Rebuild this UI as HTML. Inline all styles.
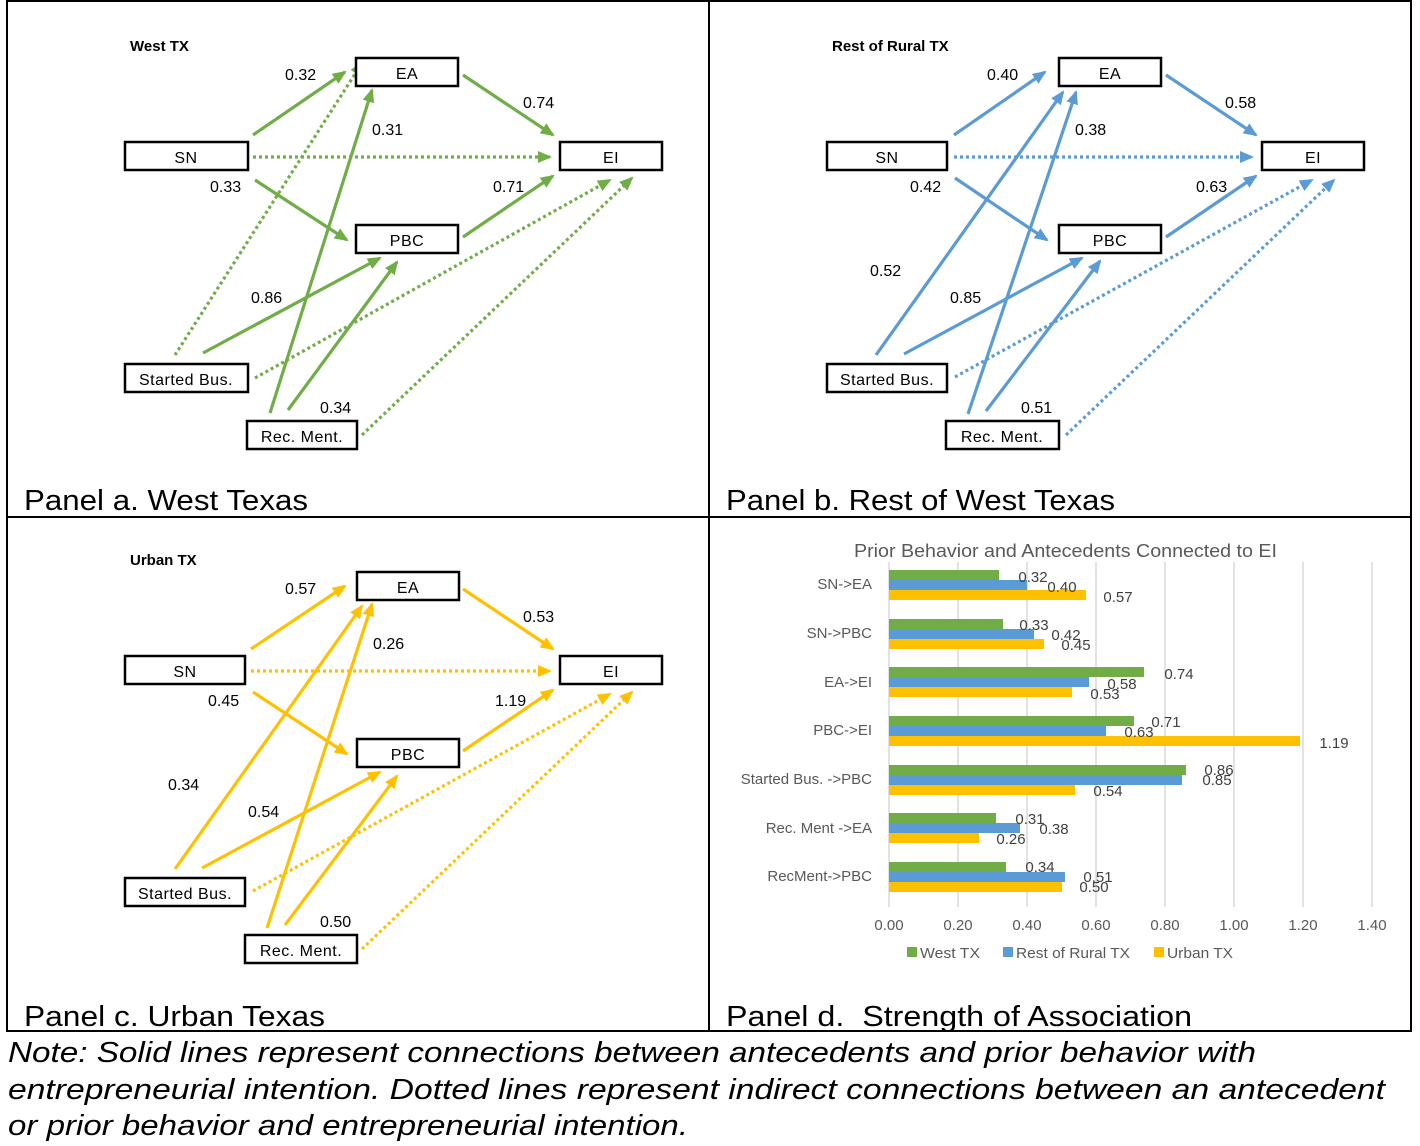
<!DOCTYPE html>
<html><head><meta charset="utf-8"><style>
body{margin:0;background:#fff;}
svg{display:block;font-family:"Liberation Sans",sans-serif;}
.box{fill:#fff;stroke:#000;stroke-width:2.5}
.bt{font-size:16px;text-anchor:middle;letter-spacing:0.5px}
.lb{font-size:16px}
.pt{font-size:29px}
</style></head><body>
<svg width="1420" height="1146" viewBox="0 0 1420 1146">
<defs>
<marker id="mg" markerUnits="userSpaceOnUse" markerWidth="14" markerHeight="12" refX="12" refY="6" orient="auto"><path d="M0,0L14,6L0,12z" fill="#70ad47"/></marker>
<marker id="mb" markerUnits="userSpaceOnUse" markerWidth="14" markerHeight="12" refX="12" refY="6" orient="auto"><path d="M0,0L14,6L0,12z" fill="#5b9bd5"/></marker>
<marker id="my" markerUnits="userSpaceOnUse" markerWidth="14" markerHeight="12" refX="12" refY="6" orient="auto"><path d="M0,0L14,6L0,12z" fill="#ffc000"/></marker>
</defs>
<rect x="7" y="1" width="1404" height="1030" fill="none" stroke="#000" stroke-width="2"/>
<line x1="709" y1="1" x2="709" y2="1031" stroke="#000" stroke-width="2"/>
<line x1="7" y1="517" x2="1411" y2="517" stroke="#000" stroke-width="2"/>

<!-- Panel a -->
<g stroke="#70ad47" stroke-width="3.2" fill="none" marker-end="url(#mg)">
<line x1="253" y1="135" x2="345" y2="72"/>
<line x1="463" y1="75" x2="553" y2="135"/>
<line x1="253" y1="157" x2="550" y2="157" stroke-dasharray="3,3"/>
<line x1="255" y1="180" x2="347" y2="240"/>
<line x1="463" y1="237" x2="553" y2="176"/>
<line x1="175" y1="355" x2="362" y2="63" stroke-dasharray="3,3"/>
<line x1="203" y1="353" x2="380" y2="258"/>
<line x1="255" y1="378" x2="610" y2="180" stroke-dasharray="3,3"/>
<line x1="270" y1="413" x2="372" y2="90"/>
<line x1="288" y1="410" x2="397" y2="262"/>
<line x1="362" y1="435" x2="632" y2="178" stroke-dasharray="3,3"/>
</g>
<rect class="box" x="356" y="58" width="102" height="28"/><text class="bt" x="407" y="79">EA</text>
<rect class="box" x="125" y="142" width="123" height="28"/><text class="bt" x="186" y="163">SN</text>
<rect class="box" x="560" y="142" width="102" height="28"/><text class="bt" x="611" y="163">EI</text>
<rect class="box" x="356" y="225" width="102" height="28"/><text class="bt" x="407" y="246">PBC</text>
<rect class="box" x="125" y="364" width="123" height="28"/><text class="bt" x="186" y="385">Started Bus.</text>
<rect class="box" x="247" y="421" width="110" height="28"/><text class="bt" x="302" y="442">Rec. Ment.</text>
<text x="130" y="51" font-size="15" font-weight="bold">West TX</text>
<g class="lb"><text x="285" y="80">0.32</text><text x="523" y="108">0.74</text><text x="372" y="135">0.31</text><text x="210" y="192">0.33</text><text x="493" y="192">0.71</text><text x="251" y="303">0.86</text><text x="320" y="413">0.34</text></g>
<text class="pt" x="24" y="510" textLength="284" lengthAdjust="spacingAndGlyphs">Panel a. West Texas</text>

<!-- Panel b -->
<g stroke="#5b9bd5" stroke-width="3.2" fill="none" marker-end="url(#mb)">
<line x1="954" y1="135" x2="1045" y2="72"/>
<line x1="1166" y1="75" x2="1256" y2="135"/>
<line x1="954" y1="157" x2="1252" y2="157" stroke-dasharray="3,3"/>
<line x1="955" y1="178" x2="1047" y2="240"/>
<line x1="1166" y1="237" x2="1256" y2="176"/>
<line x1="876" y1="355" x2="1063" y2="92"/>
<line x1="904" y1="354" x2="1082" y2="258"/>
<line x1="955" y1="377" x2="1312" y2="180" stroke-dasharray="3,3"/>
<line x1="968" y1="414" x2="1076" y2="92"/>
<line x1="986" y1="411" x2="1100" y2="261"/>
<line x1="1066" y1="435" x2="1334" y2="180" stroke-dasharray="3,3"/>
</g>
<rect class="box" x="1059" y="58" width="102" height="28"/><text class="bt" x="1110" y="79">EA</text>
<rect class="box" x="827" y="142" width="120" height="28"/><text class="bt" x="887" y="163">SN</text>
<rect class="box" x="1262" y="142" width="102" height="28"/><text class="bt" x="1313" y="163">EI</text>
<rect class="box" x="1059" y="225" width="102" height="28"/><text class="bt" x="1110" y="246">PBC</text>
<rect class="box" x="827" y="364" width="120" height="28"/><text class="bt" x="887" y="385">Started Bus.</text>
<rect class="box" x="946" y="421" width="113" height="28"/><text class="bt" x="1002" y="442">Rec. Ment.</text>
<text x="832" y="51" font-size="15" font-weight="bold">Rest of Rural TX</text>
<g class="lb"><text x="987" y="80">0.40</text><text x="1225" y="108">0.58</text><text x="1075" y="135">0.38</text><text x="910" y="192">0.42</text><text x="1196" y="192">0.63</text><text x="870" y="276">0.52</text><text x="950" y="303">0.85</text><text x="1021" y="413">0.51</text></g>
<text class="pt" x="726" y="510" textLength="389" lengthAdjust="spacingAndGlyphs">Panel b. Rest of West Texas</text>

<!-- Panel c -->
<g stroke="#ffc000" stroke-width="3.2" fill="none" marker-end="url(#my)">
<line x1="251" y1="649" x2="345" y2="586"/>
<line x1="463" y1="589" x2="553" y2="649"/>
<line x1="251" y1="671" x2="550" y2="671" stroke-dasharray="3,3"/>
<line x1="253" y1="692" x2="347" y2="754"/>
<line x1="463" y1="751" x2="553" y2="690"/>
<line x1="175" y1="869" x2="362" y2="606"/>
<line x1="202" y1="868" x2="380" y2="772"/>
<line x1="253" y1="891" x2="610" y2="694" stroke-dasharray="3,3"/>
<line x1="267" y1="928" x2="372" y2="604"/>
<line x1="285" y1="925" x2="397" y2="776"/>
<line x1="362" y1="949" x2="632" y2="692" stroke-dasharray="3,3"/>
</g>
<rect class="box" x="357" y="572" width="102" height="28"/><text class="bt" x="408" y="593">EA</text>
<rect class="box" x="125" y="656" width="120" height="28"/><text class="bt" x="185" y="677">SN</text>
<rect class="box" x="560" y="656" width="102" height="28"/><text class="bt" x="611" y="677">EI</text>
<rect class="box" x="357" y="739" width="102" height="28"/><text class="bt" x="408" y="760">PBC</text>
<rect class="box" x="125" y="878" width="120" height="28"/><text class="bt" x="185" y="899">Started Bus.</text>
<rect class="box" x="245" y="935" width="112" height="28"/><text class="bt" x="301" y="956">Rec. Ment.</text>
<text x="130" y="565" font-size="15" font-weight="bold">Urban TX</text>
<g class="lb"><text x="285" y="594">0.57</text><text x="523" y="622">0.53</text><text x="373" y="649">0.26</text><text x="208" y="706">0.45</text><text x="495" y="706">1.19</text><text x="168" y="790">0.34</text><text x="248" y="817">0.54</text><text x="320" y="927">0.50</text></g>
<text class="pt" x="24" y="1026" textLength="301" lengthAdjust="spacingAndGlyphs">Panel c. Urban Texas</text>

<!-- Panel d chart -->
<text x="854" y="557" font-size="18" fill="#595959" textLength="423" lengthAdjust="spacingAndGlyphs">Prior Behavior and Antecedents Connected to EI</text>
<g stroke="#d9d9d9" stroke-width="1.5">
<line x1="889" y1="562" x2="889" y2="907"/><line x1="958" y1="562" x2="958" y2="907"/><line x1="1027" y1="562" x2="1027" y2="907"/><line x1="1096" y1="562" x2="1096" y2="907"/><line x1="1165" y1="562" x2="1165" y2="907"/><line x1="1234" y1="562" x2="1234" y2="907"/><line x1="1303" y1="562" x2="1303" y2="907"/><line x1="1372" y1="562" x2="1372" y2="907"/>
</g>
<g>
<rect x="889" y="570" width="110" height="10" fill="#70ad47"/><rect x="889" y="580" width="138" height="10" fill="#5b9bd5"/><rect x="889" y="590" width="197" height="10" fill="#ffc000"/>
<rect x="889" y="619" width="114" height="10" fill="#70ad47"/><rect x="889" y="629" width="145" height="10" fill="#5b9bd5"/><rect x="889" y="639" width="155" height="10" fill="#ffc000"/>
<rect x="889" y="667" width="255" height="10" fill="#70ad47"/><rect x="889" y="677" width="200" height="10" fill="#5b9bd5"/><rect x="889" y="687" width="183" height="10" fill="#ffc000"/>
<rect x="889" y="716" width="245" height="10" fill="#70ad47"/><rect x="889" y="726" width="217" height="10" fill="#5b9bd5"/><rect x="889" y="736" width="411" height="10" fill="#ffc000"/>
<rect x="889" y="765" width="297" height="10" fill="#70ad47"/><rect x="889" y="775" width="293" height="10" fill="#5b9bd5"/><rect x="889" y="785" width="186" height="10" fill="#ffc000"/>
<rect x="889" y="813" width="107" height="10" fill="#70ad47"/><rect x="889" y="823" width="131" height="10" fill="#5b9bd5"/><rect x="889" y="833" width="90" height="10" fill="#ffc000"/>
<rect x="889" y="862" width="117" height="10" fill="#70ad47"/><rect x="889" y="872" width="176" height="10" fill="#5b9bd5"/><rect x="889" y="882" width="173" height="10" fill="#ffc000"/>
</g>
<g font-size="15" fill="#404040" text-anchor="middle">
<text x="1033" y="582">0.32</text><text x="1062" y="592">0.40</text><text x="1118" y="602">0.57</text>
<text x="1034" y="630">0.33</text><text x="1066" y="640">0.42</text><text x="1076" y="650">0.45</text>
<text x="1179" y="679">0.74</text><text x="1122" y="689">0.58</text><text x="1105" y="699">0.53</text>
<text x="1166" y="727">0.71</text><text x="1139" y="737">0.63</text><text x="1334" y="748">1.19</text>
<text x="1219" y="775">0.86</text><text x="1217" y="785">0.85</text><text x="1108" y="796">0.54</text>
<text x="1030" y="824">0.31</text><text x="1054" y="834">0.38</text><text x="1011" y="844">0.26</text>
<text x="1040" y="872">0.34</text><text x="1098" y="882">0.51</text><text x="1094" y="892">0.50</text>
</g>
<g font-size="15" fill="#595959" text-anchor="end">
<text x="872" y="589">SN-&gt;EA</text><text x="872" y="638">SN-&gt;PBC</text><text x="872" y="687">EA-&gt;EI</text><text x="872" y="735">PBC-&gt;EI</text><text x="872" y="784">Started Bus. -&gt;PBC</text><text x="872" y="833">Rec. Ment -&gt;EA</text><text x="872" y="881">RecMent-&gt;PBC</text>
</g>
<g font-size="15" fill="#595959" text-anchor="middle">
<text x="889" y="930">0.00</text><text x="958" y="930">0.20</text><text x="1027" y="930">0.40</text><text x="1096" y="930">0.60</text><text x="1165" y="930">0.80</text><text x="1234" y="930">1.00</text><text x="1303" y="930">1.20</text><text x="1372" y="930">1.40</text>
</g>
<g font-size="15" fill="#595959">
<rect x="907" y="947" width="10" height="10" fill="#70ad47"/><text x="920" y="958" textLength="60" lengthAdjust="spacingAndGlyphs">West TX</text>
<rect x="1003" y="947" width="10" height="10" fill="#5b9bd5"/><text x="1016" y="958" textLength="114" lengthAdjust="spacingAndGlyphs">Rest of Rural TX</text>
<rect x="1154" y="947" width="10" height="10" fill="#ffc000"/><text x="1167" y="958" textLength="66" lengthAdjust="spacingAndGlyphs">Urban TX</text>
</g>
<text class="pt" x="726" y="1026" textLength="466" lengthAdjust="spacingAndGlyphs" xml:space="preserve">Panel d.  Strength of Association</text>

<!-- Note -->
<g font-size="29" font-style="italic" xml:space="preserve">
<text x="8" y="1062" textLength="1248" lengthAdjust="spacingAndGlyphs">Note:  Solid lines represent connections between antecedents and prior behavior with</text>
<text x="8" y="1099" textLength="1377" lengthAdjust="spacingAndGlyphs">entrepreneurial intention.  Dotted lines represent indirect connections between an antecedent</text>
<text x="8" y="1135" textLength="680" lengthAdjust="spacingAndGlyphs">or prior behavior and entrepreneurial intention.</text>
</g>
</svg>
</body></html>
